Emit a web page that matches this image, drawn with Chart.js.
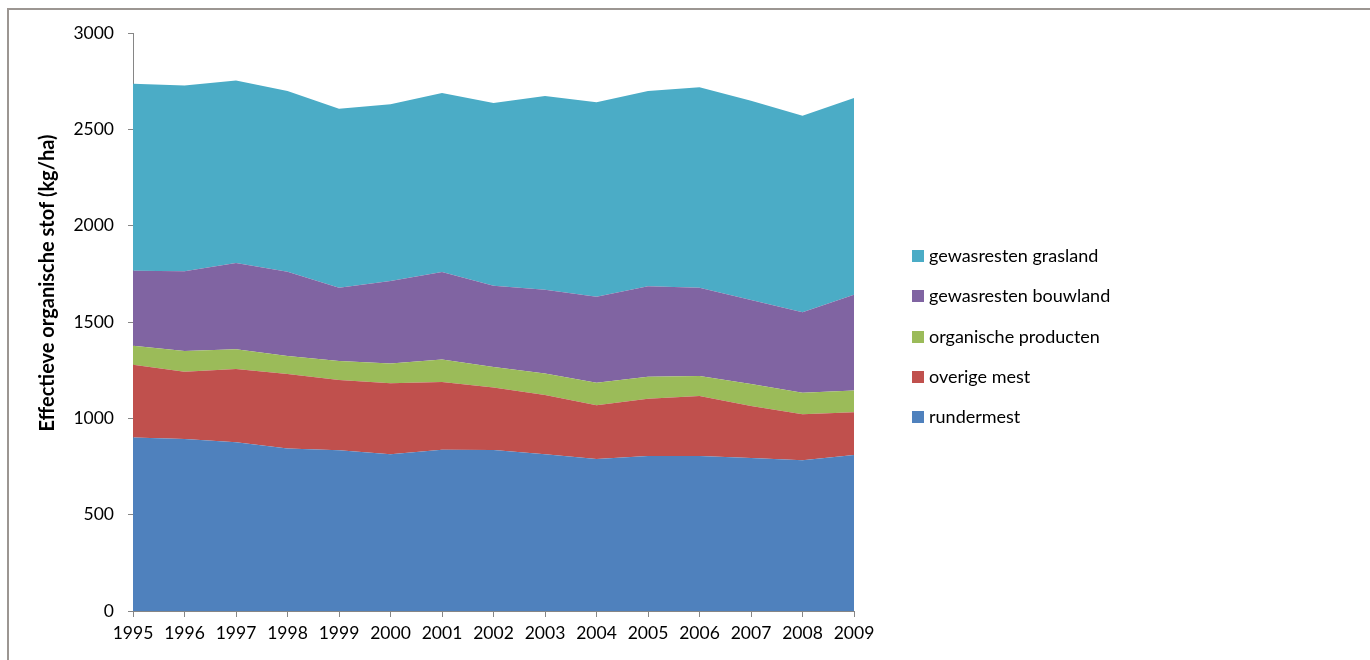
<!DOCTYPE html>
<html>
<head>
<meta charset="utf-8">
<script src="https://cdn.jsdelivr.net/npm/chart.js@4.4.1/dist/chart.umd.min.js"></script>
<style>
  html, body { margin: 0; padding: 0; background: #fff; }
  #wrap { position: relative; width: 1370px; height: 660px; overflow: hidden; }
  #frame { position: absolute; left: 7px; top: 8px; width: 1400px; height: 700px;
           border-top: 2px solid #9c9692; border-left: 2px solid #9c9692; box-sizing: border-box; }
  canvas { position: absolute; left: 0; top: 0; }
  #legend { position: absolute; left: 912px; top: 244px; font-family: Lato, "Liberation Sans", sans-serif;
            font-size: 18px; color: #000; }
  #legend .item { height: 40.3px; display: flex; align-items: flex-start; white-space: nowrap; }
  #legend .sw { width: 12px; height: 12px; margin-right: 5px; margin-top: 6px; }
</style>
</head>
<body>
<div id="wrap">
  <div id="frame"></div>
  <canvas id="c" width="1370" height="660"></canvas>
  <div id="legend"></div>
</div>
<script>
const years = ["1995","1996","1997","1998","1999","2000","2001","2002","2003","2004","2005","2006","2007","2008","2009"];
const rundermest = [901, 893, 876, 843, 834, 813, 837, 835, 813, 789, 804, 804, 794, 782, 810];
const overigeMest = [377, 349, 380, 387, 365, 369, 352, 325, 308, 279, 298, 312, 270, 239, 221];
const organischeProducten = [99, 107, 102, 93, 98, 103, 117, 106, 112, 117, 114, 104, 114, 112, 114];
const gewasrestenBouwland = [389, 414, 448, 438, 381, 428, 453, 422, 435, 446, 469, 458, 436, 417, 497];
const gewasrestenGrasland = [971, 965, 948, 938, 929, 917, 929, 949, 1005, 1009, 1014, 1040, 1035, 1021, 1020];
const yTicks = [0, 500, 1000, 1500, 2000, 2500, 3000];
const yTitle = "Effectieve organische stof (kg/ha)";

const seriesNames = ["rundermest", "overige mest", "organische producten", "gewasresten bouwland", "gewasresten grasland"];
const seriesData = [rundermest, overigeMest, organischeProducten, gewasrestenBouwland, gewasrestenGrasland];
const seriesColors = ["#4F81BD", "#C0504D", "#9BBB59", "#8064A2", "#4BACC6"];

const FONT = 'Lato, "Liberation Sans", sans-serif';

const datasets = seriesNames.map((n, i) => ({
  label: n,
  data: seriesData[i],
  backgroundColor: seriesColors[i],
  borderColor: seriesColors[i],
  borderWidth: 0,
  pointRadius: 0,
  tension: 0,
  fill: i === 0 ? 'origin' : '-1'
}));

const titlePlugin = {
  id: 'ytitle',
  afterDraw(chart) {
    const ctx = chart.ctx;
    ctx.save();
    ctx.translate(48, 283);
    ctx.rotate(-Math.PI / 2);
    ctx.font = 'bold 20px ' + FONT;
    ctx.fillStyle = '#000';
    ctx.textAlign = 'center';
    ctx.textBaseline = 'middle';
    ctx.fillText(yTitle, 0, 0);
    ctx.restore();
  }
};

new Chart(document.getElementById('c'), {
  type: 'line',
  data: { labels: years, datasets },
  options: {
    responsive: false,
    animation: false,
    layout: { padding: { left: 22, right: 516, top: 33, bottom: 10 } },
    plugins: { legend: { display: false }, tooltip: { enabled: false } },
    scales: {
      x: {
        offset: false,
        grid: { drawOnChartArea: false, drawTicks: true, tickLength: 6, color: '#868686' },
        border: { color: '#868686', width: 1 },
        ticks: { color: '#000', font: { family: FONT, size: 17.5 }, padding: 6, maxRotation: 0, autoSkip: false },
        afterFit: s => { s.height = 39; }
      },
      y: {
        stacked: true,
        min: 0, max: 3000,
        afterBuildTicks: s => { s.ticks = yTicks.map(v => ({ value: v })); },
        grid: { drawOnChartArea: false, drawTicks: true, tickLength: 5, color: '#868686' },
        border: { color: '#868686', width: 1 },
        ticks: { color: '#000', font: { family: FONT, size: 17.5 }, padding: 14, callback: v => String(v) },
        afterFit: s => { s.width = 133 - 22; }
      }
    }
  },
  plugins: [titlePlugin]
});

const lg = document.getElementById('legend');
for (let i = seriesNames.length - 1; i >= 0; i--) {
  const it = document.createElement('div');
  it.className = 'item';
  const sw = document.createElement('div');
  sw.className = 'sw';
  sw.style.background = seriesColors[i];
  const tx = document.createElement('span');
  tx.textContent = seriesNames[i];
  it.appendChild(sw); it.appendChild(tx);
  lg.appendChild(it);
}
</script>
</body>
</html>
